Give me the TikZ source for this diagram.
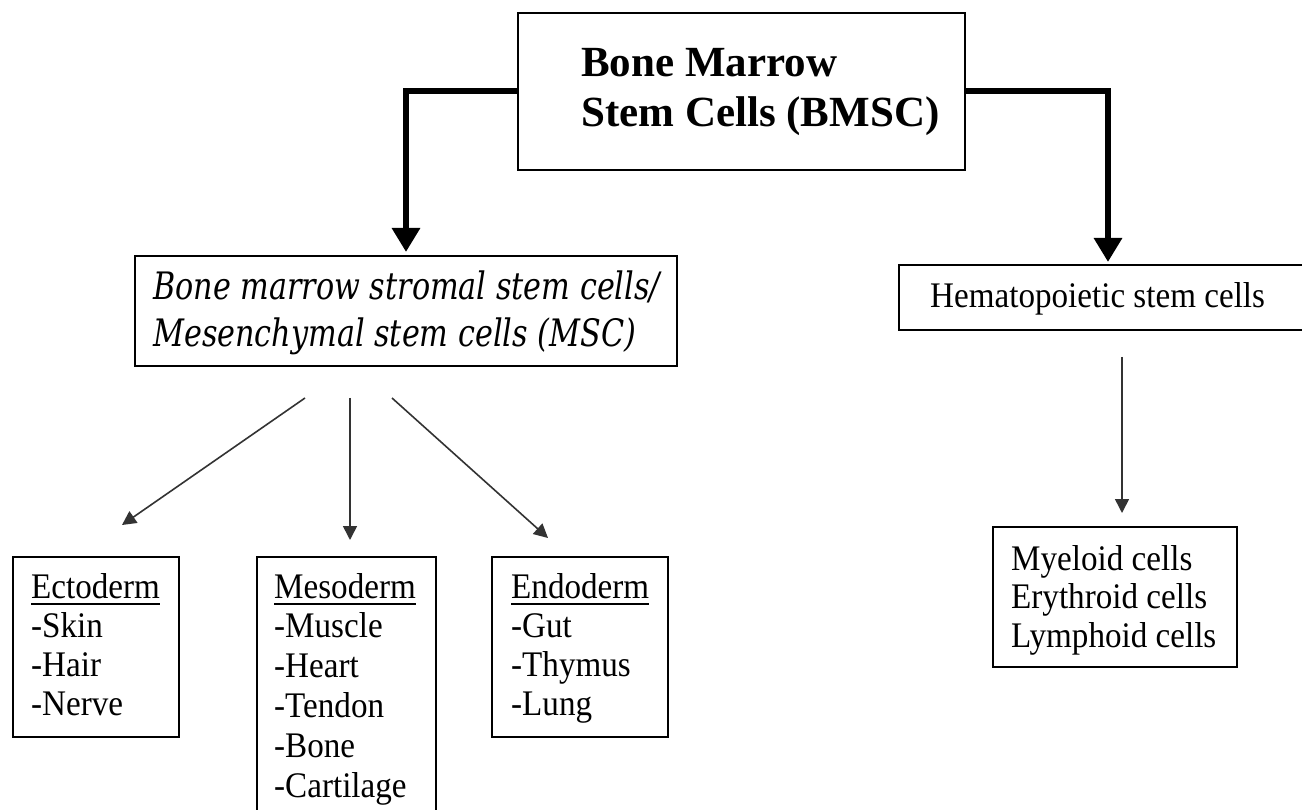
\documentclass[tikz,border=0pt]{standalone}
\usepackage{fontspec}
\setmainfont[FakeStretch=0.92]{Liberation Serif}
\newfontfamily\bmscfont{Liberation Serif}
\newfontfamily\mscfont[FakeStretch=0.8]{DejaVu Serif}
\usetikzlibrary{arrows.meta}
\newcommand\txtblock[1]{\parbox[t]{800pt}{\raggedright #1}}
\newcommand\hdr[1]{\leavevmode\vtop{\hbox{#1}\kern4.5pt\hrule height 2.5pt}}
\begin{document}
\begin{tikzpicture}[x=1pt,y=-1pt,
  box/.style={draw=black, line width=2pt, inner sep=0pt, rectangle},
  thickline/.style={line width=6pt, draw=black, -{Triangle[width=27pt,length=24pt]}},
  thinarrow/.style={line width=1.6pt, draw=black!80, -{Triangle[width=14pt,length=14pt]}},
  txt/.style={anchor=base west, inner sep=0pt}]
\useasboundingbox (0,0) rectangle (1302,810);
\clip (0,0) rectangle (1302,810);
\fill[white] (0,0) rectangle (1302,810);

% boxes
\node[box, minimum width=447pt, minimum height=157pt] (bmsc) at (741.5,91.5) {};
\node[box, minimum width=542pt, minimum height=110pt] (msc) at (406,311) {};
\node[box, minimum width=418pt, minimum height=65pt] (hem) at (1108,297.5) {};
\node[box, minimum width=244pt, minimum height=140pt] (mye) at (1115,597) {};
\node[box, minimum width=166pt, minimum height=180pt] (ecto) at (96,647) {};
\node[box, minimum width=179pt, minimum height=300pt] (meso) at (346.5,707) {};
\node[box, minimum width=176pt, minimum height=180pt] (endo) at (580,647) {};

% texts
\node[txt] (bmsct) at (581,77) {\txtblock{\bmscfont\fontsize{43}{50}\selectfont\bfseries Bone Marrow\\Stem Cells (BMSC)}};
\node[txt] (msct) at (153,300) {\txtblock{\mscfont\itshape\fontsize{37.8}{47}\selectfont Bone marrow stromal stem cells/\\Mesenchymal stem cells (MSC)}};
\node[txt] (hemt) at (930,308) {\txtblock{\fontsize{36}{38}\selectfont Hematopoietic stem cells}};
\node[txt] (myet) at (1011,570) {\txtblock{\fontsize{36}{38.5}\selectfont Myeloid cells\\Erythroid cells\\Lymphoid cells}};
\node[txt] (ectot) at (31,598) {\txtblock{\fontsize{36}{39.3}\selectfont \hdr{Ectoderm}\\-Skin\\-Hair\\-Nerve}};
\node[txt] (mesot) at (274,598) {\txtblock{\fontsize{36}{39.8}\selectfont \hdr{Mesoderm}\\-Muscle\\-Heart\\-Tendon\\-Bone\\-Cartilage}};
\node[txt] (endot) at (511,598) {\txtblock{\fontsize{36}{39.3}\selectfont \hdr{Endoderm}\\-Gut\\-Thymus\\-Lung}};

% thick connectors
\draw[thickline, shorten >=3pt] (bmsc.west) -| (msc.north);
\draw[thickline, shorten >=2pt] (bmsc.east) -| (hem.north);

% thin arrows
\coordinate (l1s) at (305,398); \coordinate (l1e) at (122,525);
\coordinate (l2s) at (350,398); \coordinate (l2e) at (350,540);
\coordinate (l3s) at (392,398); \coordinate (l3e) at (548,538);
\coordinate (h1s) at (1122,357); \coordinate (h1e) at (1122,513);
\draw[thinarrow] (l1s) -- (l1e);
\draw[thinarrow] (l2s) -- (l2e);
\draw[thinarrow] (l3s) -- (l3e);
\draw[thinarrow] (h1s) -- (h1e);
\end{tikzpicture}
\end{document}
